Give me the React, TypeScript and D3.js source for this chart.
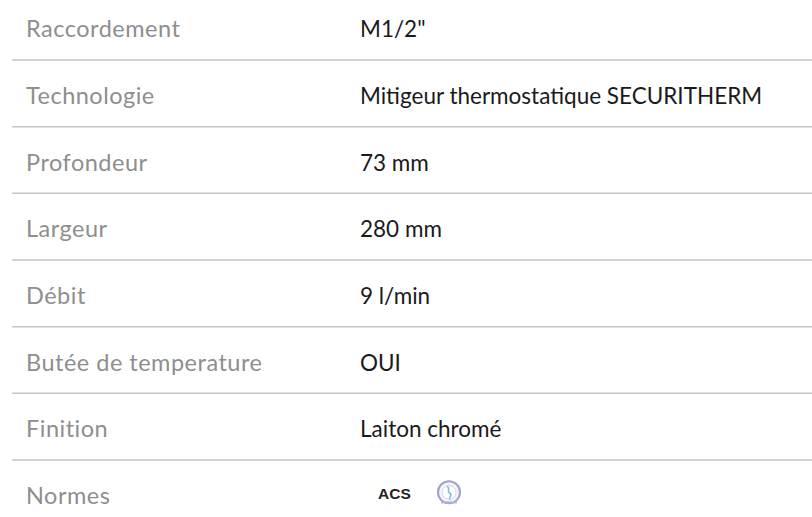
import React from "react";
import * as d3 from "d3";

const labels = [
  "Raccordement",
  "Technologie",
  "Profondeur",
  "Largeur",
  "Débit",
  "Butée de temperature",
  "Finition",
  "Normes",
];
const values = [
  "M1/2\"",
  "Mitigeur thermostatique SECURITHERM",
  "73 mm",
  "280 mm",
  "9 l/min",
  "OUI",
  "Laiton chromé",
  "",
];
const normes = ["ACS", "NF"];

const W = 812;
const H = 517;

export default function App() {
  const y = d3
    .scaleBand<string>()
    .domain(labels)
    .range([-6.67, -6.67 + 66.67 * labels.length])
    .paddingInner(0)
    .paddingOuter(0);
  const bw = y.bandwidth();
  const font = "Lato, 'Noto Sans', sans-serif";
  return (
    <svg
      width={W}
      height={H}
      style={{ position: "absolute", left: 0, top: 0, display: "block", background: "#fff" }}
    >
      {labels.map((l, i) => {
        const top = y(l)!;
        const base = top + bw / 2 + 10.5;
        return (
          <g key={l}>
            <text
              x={26}
              y={base}
              fontFamily={font}
              fontSize={23.5}
              fontWeight={400}
              letterSpacing={0.5}
              fill="#8e8e8e"
            >
              {l}
            </text>
            {values[i] && (
              <text x={360} y={base} fontFamily={font} fontSize={22.5} fill="#1a1a1a">
                {values[i]}
              </text>
            )}
            {i < labels.length - 1 && (
              <line x1={12} x2={W} y1={top + bw} y2={top + bw} stroke="#c4c4c4" strokeWidth={1.5} />
            )}
          </g>
        );
      })}
      {(() => {
        const top = y("Normes")!;
        const cy = top + bw / 2;
        return (
          <g>
            <text
              x={378}
              y={cy + 5.5}
              fontFamily="'Liberation Sans', Arial, sans-serif"
              fontWeight="bold"
              fontSize={15.5}
              fill="#222"
            >
              {normes[0]}
            </text>
            <g transform={`translate(449,${cy - 1})`}>
              <circle r={11} fill="#f4f4fb" stroke="#9fa3cc" strokeWidth={2} />
              <circle r={7} fill="#fff" stroke="#d5d8ea" strokeWidth={1} />
              <path d="M-2,-6 C2,-4 -3,-1 1,1 C4,3 -1,5 1,7" fill="none" stroke="#7fb8cf" strokeWidth={1.5} />
              <rect x={-8} y={9} width={16} height={2} fill="#b0b4d4" />
            </g>
          </g>
        );
      })()}
    </svg>
  );
}
